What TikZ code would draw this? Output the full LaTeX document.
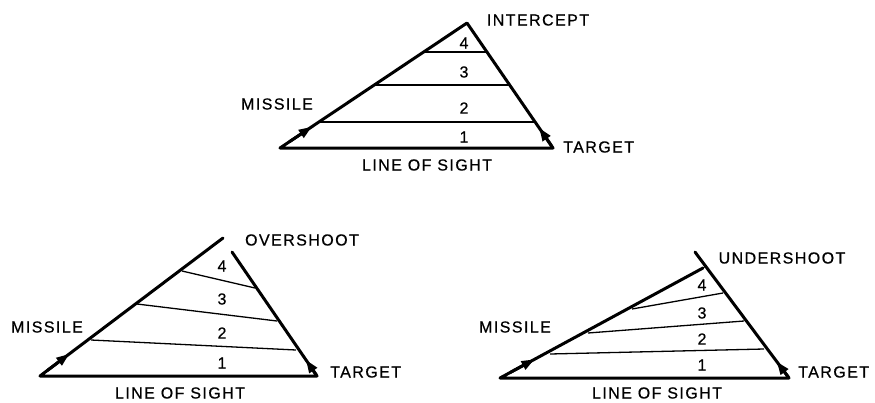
\documentclass[tikz,border=0pt]{standalone}
\usepackage{fontspec}
\setmainfont{Liberation Sans}[LetterSpace=9,FakeBold=0.6]
\usetikzlibrary{arrows.meta,calc}
\begin{document}
\begin{tikzpicture}[x=1pt,y=-1pt,
  lbl/.style={font=\fontsize{16}{18}\selectfont, inner sep=0pt},
  edge/.style={line width=3pt, line cap=round, line join=round},
  band/.style={line width=1.3pt},
  dir/.style={-{Triangle[length=13pt,width=9pt]}, line width=3pt}]
\useasboundingbox (0,0) rectangle (875,402);

% ---------- top: intercept ----------
\coordinate (tL) at (280,148);
\coordinate (tR) at (553,148);
\coordinate (tA) at (467,23);
\draw[edge] (tA) -- (tL) -- (tR) -- cycle;
\foreach \t in {0.208,0.504,0.768}
  \draw[band] ($(tL)!\t!(tA)$) -- ($(tR)!\t!(tA)$);
\draw[dir] ($(tL)!0.05!(tA)$) -- ($(tL)!0.17!(tA)$);
\draw[dir] ($(tR)!0.02!(tA)$) -- ($(tR)!0.16!(tA)$);
\node[lbl] (tint) at (538,20) {INTERCEPT};
\node[lbl] (tmis) at (277,104) {MISSILE};
\node[lbl,anchor=west] (ttar) at (563,147) {TARGET};
\node[lbl] (tlos) at (427,165) {LINE OF SIGHT};
\node[lbl] (t4) at (464,43) {4};
\node[lbl] (t3) at (464,72) {3};
\node[lbl] (t2) at (464,108) {2};
\node[lbl] (t1) at (464,137) {1};

% ---------- bottom left: overshoot ----------
\coordinate (oL) at (40,376);
\coordinate (oR) at (317,376);
\coordinate (oM) at (223,238);
\coordinate (oT) at (232,252);
\draw[edge] (oM) -- (oL) -- (oR) -- (oT);
\draw[band] (91,340) -- (296,350);
\draw[band] (137,304) -- (277,321);
\draw[band] (182,271) -- (255,288);
\draw[dir] ($(oL)!0.04!(oM)$) -- ($(oL)!0.16!(oM)$);
\draw[dir] ($(oR)!0.01!(oT)$) -- ($(oR)!0.13!(oT)$);
\node[lbl] (oover) at (302,240) {OVERSHOOT};
\node[lbl] (omis) at (47,327) {MISSILE};
\node[lbl,anchor=west] (otar) at (330,372) {TARGET};
\node[lbl] (olos) at (180,393) {LINE OF SIGHT};
\node[lbl] (o4) at (222,266) {4};
\node[lbl] (o3) at (222,299) {3};
\node[lbl] (o2) at (222,333) {2};
\node[lbl] (o1) at (222,363) {1};

% ---------- bottom right: undershoot ----------
\coordinate (uL) at (500,378);
\coordinate (uR) at (789,378);
\coordinate (uM) at (703,268);
\coordinate (uT) at (695,252);
\draw[edge] (uM) -- (uL) -- (uR) -- (uT);
\draw[band] (550,354) -- (764,349);
\draw[band] (588,333) -- (744,321);
\draw[band] (632,309) -- (723,293);
\draw[dir] ($(uL)!0.05!(uM)$) -- ($(uL)!0.17!(uM)$);
\draw[dir] ($(uR)!0.01!(uT)$) -- ($(uR)!0.13!(uT)$);
\node[lbl] (uund) at (782,258) {UNDERSHOOT};
\node[lbl] (umis) at (515,327) {MISSILE};
\node[lbl,anchor=west] (utar) at (798,372) {TARGET};
\node[lbl] (ulos) at (657,393) {LINE OF SIGHT};
\node[lbl] (u4) at (702,285) {4};
\node[lbl] (u3) at (702,313) {3};
\node[lbl] (u2) at (702,339) {2};
\node[lbl] (u1) at (702,365) {1};
\end{tikzpicture}
\end{document}
